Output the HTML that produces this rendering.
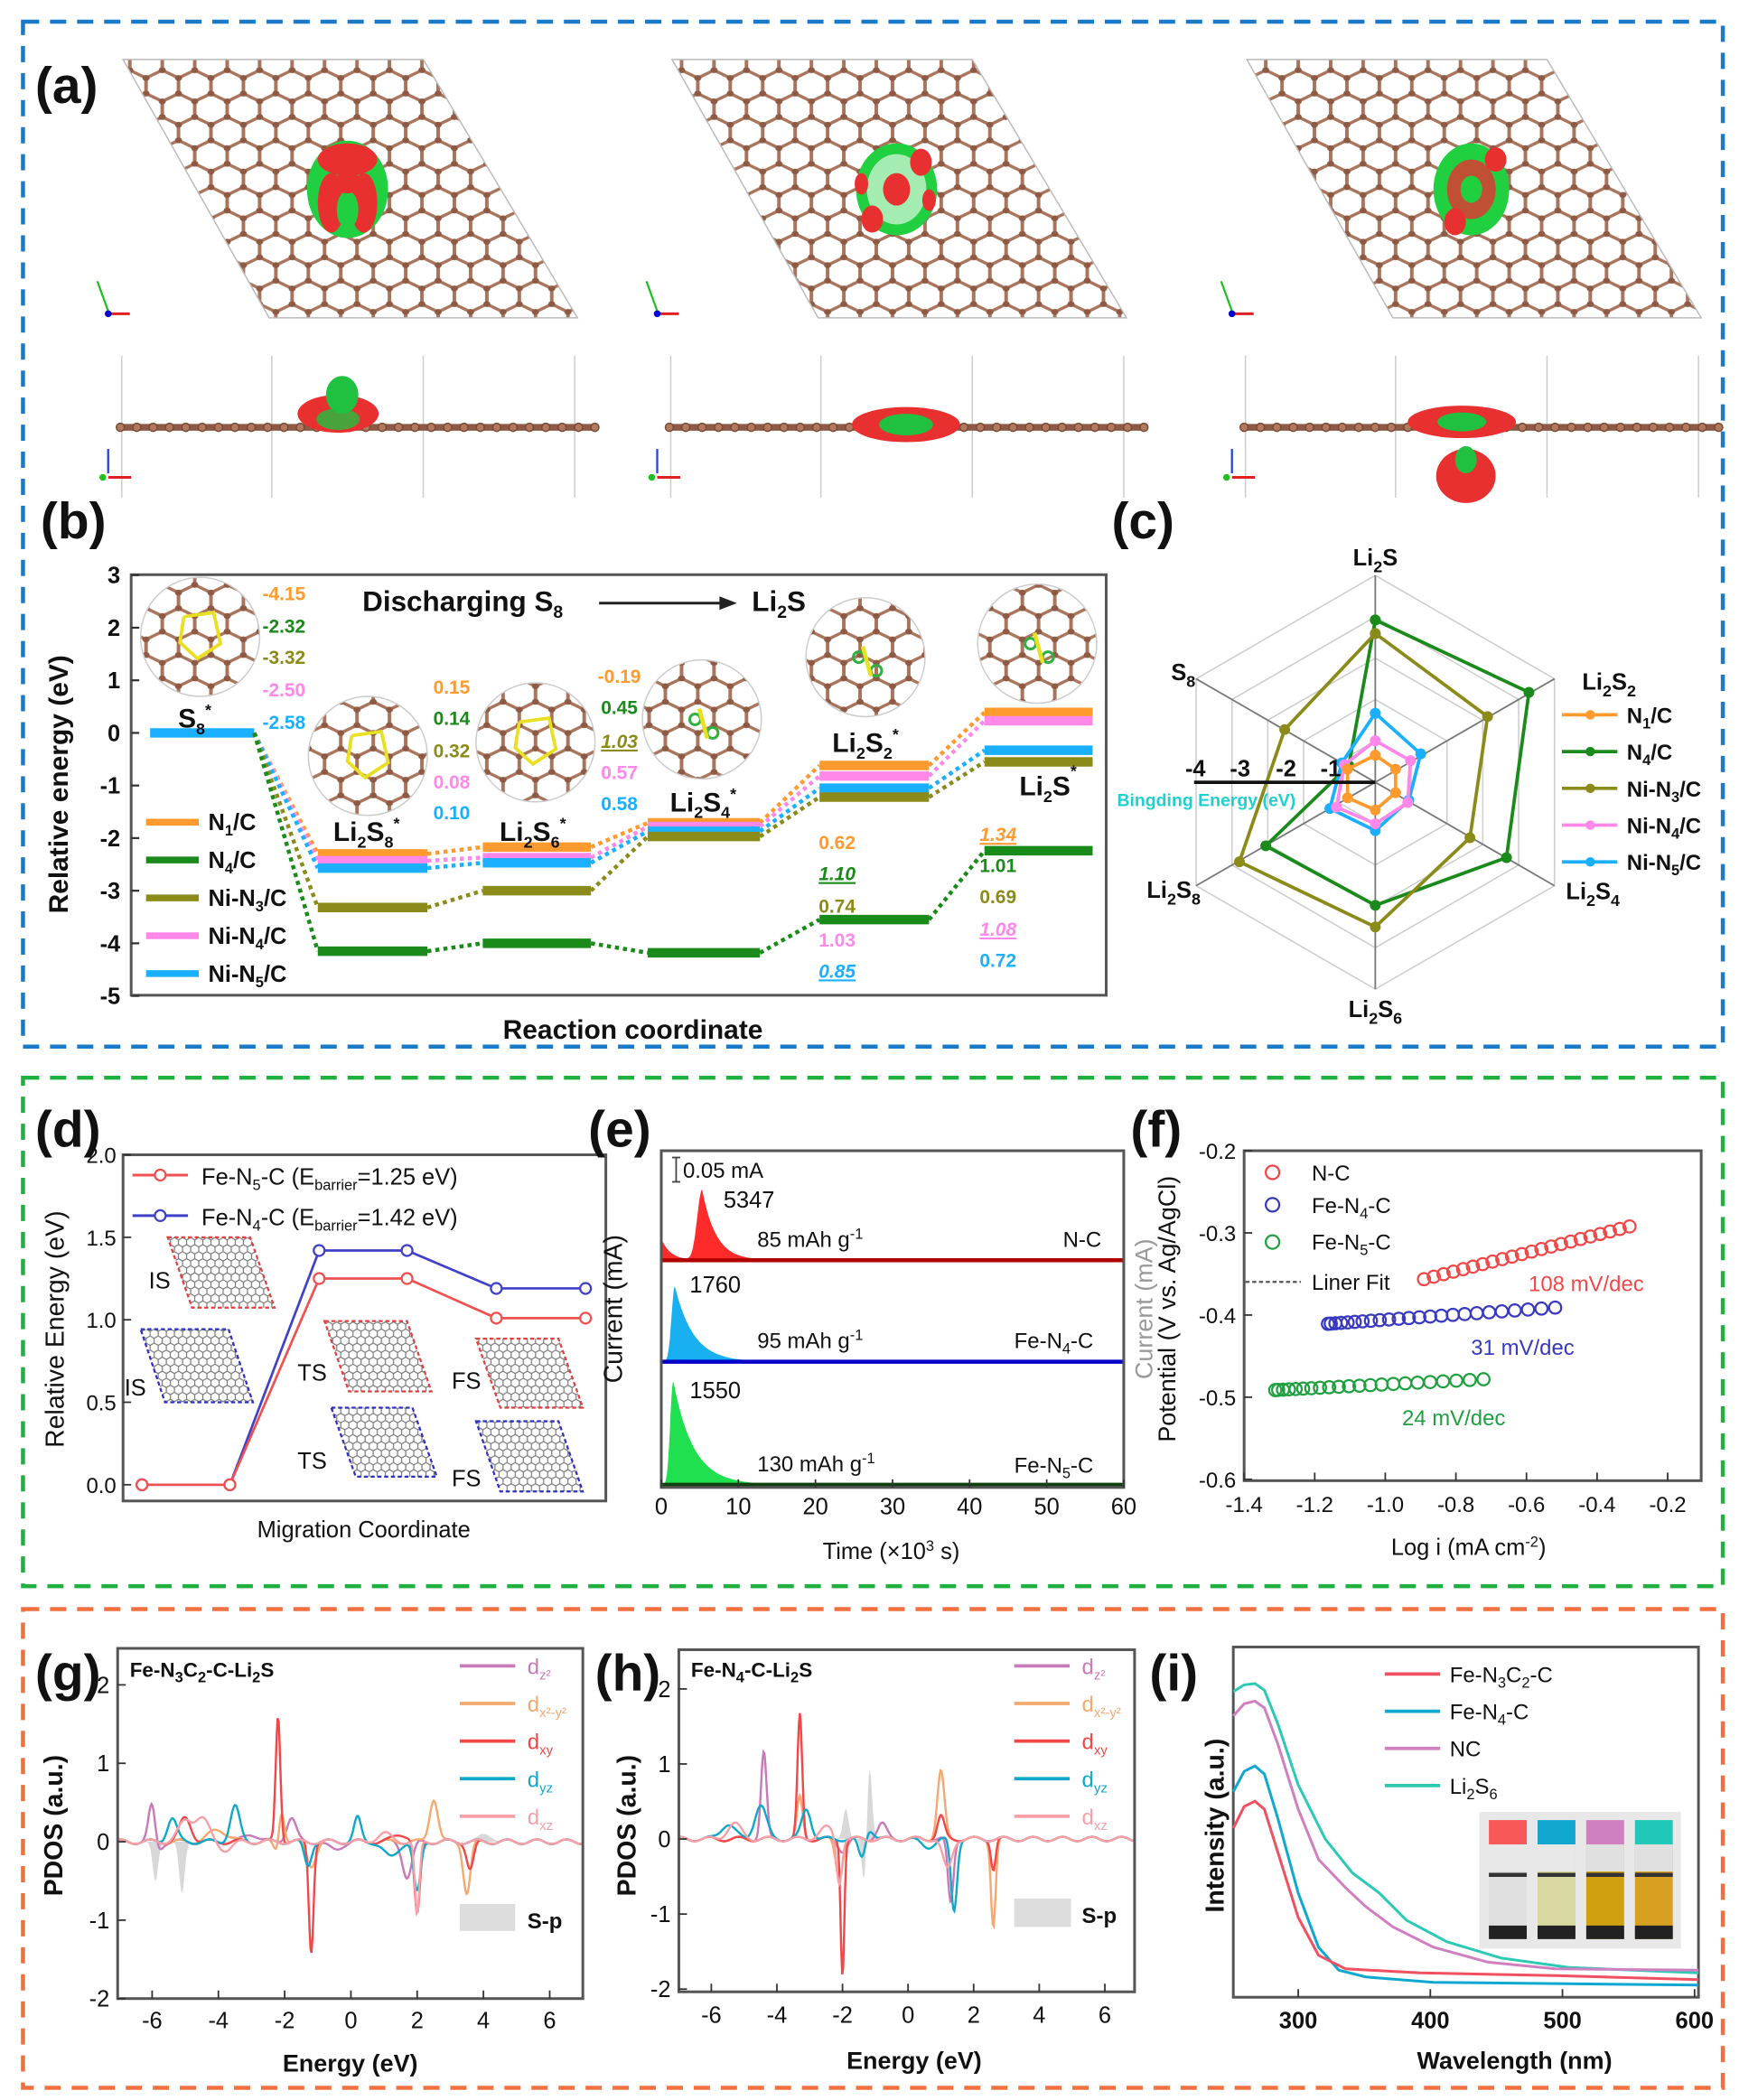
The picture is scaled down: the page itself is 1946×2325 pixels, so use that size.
<!DOCTYPE html>
<html><head><meta charset="utf-8"><style>
html,body{margin:0;padding:0;background:#fff}
svg{display:block}
text{font-family:"Liberation Sans",Arial,sans-serif}
</style></head><body>
<svg id="S" xmlns="http://www.w3.org/2000/svg" width="1946" height="2325" viewBox="0 0 1300 1553" preserveAspectRatio="none">
<defs>
<pattern id="hex" patternUnits="userSpaceOnUse" width="20" height="34.6" patternTransform="scale(1.2,1)">
<path d="M10,0 L20,5.77 L20,17.3 L10,23.06 L0,17.3 L0,5.77 Z M10,23.06 L10,34.6" fill="none" stroke="#a8745c" stroke-width="2.2"/>
<g fill="#8e5a44"><circle cx="10" cy="0" r="2.2"/><circle cx="20" cy="5.77" r="2.2"/><circle cx="20" cy="17.3" r="2.2"/><circle cx="10" cy="23.06" r="2.2"/><circle cx="0" cy="17.3" r="2.2"/><circle cx="0" cy="5.77" r="2.2"/><circle cx="10" cy="34.6" r="2.2"/></g>
</pattern>
<pattern id="hexg" patternUnits="userSpaceOnUse" width="6" height="10.4">
<path d="M3,0 L6,1.73 L6,5.2 L3,6.93 L0,5.2 L0,1.73 Z M3,6.93 L3,10.4" fill="none" stroke="#777" stroke-width="0.8"/>
</pattern>
</defs>
<g id="G"></g>
</svg>
<script>
var o='';
function T(x,y,s,sz,opt){opt=opt||{};o+='<text x="'+x+'" y="'+y+'" font-size="'+sz+'"'+(opt.b!==false?' font-weight="bold"':'')+' fill="'+(opt.c||'#111')+'"'+(opt.a?' text-anchor="'+opt.a+'"':'')+(opt.r?' transform="rotate('+opt.r+' '+x+' '+y+')"':'')+(opt.st?' font-style="italic"':'')+(opt.u?' text-decoration="underline"':'')+'>'+s+'</text>';}
function L(x1,y1,x2,y2,c,w,d){o+='<line x1="'+x1+'" y1="'+y1+'" x2="'+x2+'" y2="'+y2+'" stroke="'+c+'" stroke-width="'+w+'"'+(d?' stroke-dasharray="'+d+'"':'')+'/>';}
function P(pts,c,w,f,extra){o+='<polyline points="'+pts.map(function(p){return p[0].toFixed(1)+','+p[1].toFixed(1)}).join(' ')+'" fill="'+(f||'none')+'" stroke="'+c+'" stroke-width="'+w+'" '+(extra||'')+'/>';}
function R(x,y,w,h,c,f,sw){o+='<rect x="'+x+'" y="'+y+'" width="'+w+'" height="'+h+'" fill="'+(f||'none')+'" stroke="'+(c||'none')+'" stroke-width="'+(sw||1)+'"/>';}
function C(x,y,r,c,f,w){o+='<circle cx="'+x+'" cy="'+y+'" r="'+r+'" fill="'+(f||'none')+'" stroke="'+(c||'none')+'" stroke-width="'+(w||1)+'"/>';}
function E(x,y,rx,ry,f,op){o+='<ellipse cx="'+x+'" cy="'+y+'" rx="'+rx+'" ry="'+ry+'" fill="'+f+'" opacity="'+(op||1)+'"/>';}
o+='<rect x="17" y="16" width="1257" height="758" fill="none" stroke="#1a7ac8" stroke-width="3" stroke-dasharray="12,8"/>';
o+='<rect x="17" y="797" width="1257" height="376" fill="none" stroke="#20b040" stroke-width="3" stroke-dasharray="12,8"/>';
o+='<rect x="17" y="1190" width="1257" height="354" fill="none" stroke="#f07040" stroke-width="3" stroke-dasharray="12,8"/>';
[0,406,831].forEach(function(dx,i){
 o+='<polygon points="'+(91+dx)+',44 '+(313+dx)+',44 '+(427+dx)+',235 '+(199+dx)+',235" fill="url(#hex)" stroke="#bbb" stroke-width="1"/>';
 var cx=257+dx,cy=140;
 if(i==0){E(cx,cy,30,36,'#20d040');E(cx,cy-22,22,12,'#e83030');E(cx-12,cy+10,10,22,'#e83030');E(cx+12,cy+10,10,22,'#e83030');E(cx,cy+15,8,14,'#20d040');E(cx,cy-5,10,8,'#e83030');}
 else if(i==1){E(cx,cy,30,34,'#20d040');E(cx,cy,22,26,'#fff',0.6);E(cx,cy,10,12,'#e83030');E(cx+18,cy-20,8,10,'#e83030');E(cx-18,cy+22,8,10,'#e83030');E(cx-26,cy-4,5,8,'#e83030');E(cx+24,cy+8,5,8,'#e83030');}
 else {E(cx,cy,28,34,'#20d040');E(cx,cy,18,22,'#e83030',0.8);E(cx,cy,8,10,'#20d040');E(cx+18,cy-22,8,9,'#e83030');E(cx-12,cy+24,8,10,'#e83030');}
 L(80+dx,230,72+dx,208,'#20c020',1.5);L(80+dx,232,96+dx,232,'#e02020',2);C(80+dx,232,2,'#00c','#00c');
 [90,201,313,425].forEach(function(x){L(x+dx,263,x+dx,368,'#ccc',1);});
 L(87+dx,316,439+dx,316,'#8e5a44',5);
 for(var k=0;k<30;k++)C(89+dx+k*12.1,316,3,'#7a4a34','#b07a60',1);
 if(i==0){E(250,306,30,14,'#e83030');E(253,292,12,14,'#20c040');E(250,310,16,8,'#20c040',0.8);}
 else if(i==1){E(670,314,40,13,'#e83030');E(670,314,20,8,'#20c040');}
 else{E(1081,312,40,12,'#e83030');E(1081,312,18,7,'#20c040');E(1084,352,22,20,'#e83030');E(1084,340,8,10,'#20c040');}
 L(80+dx,350,80+dx,332,'#2040e0',1.5);L(80+dx,353,97+dx,353,'#e02020',2);C(76+dx,353,2,'#20c020','#20c020');
});
T(26,76,'(a)',38);
T(30,398,'(b)',38);
var bx0=97,bx1=818,by=function(e){return 542-e*38.9;};
R(bx0,425,bx1-bx0,311,'#555','none',2);
for(var e=-5;e<=3;e++){L(bx0,by(e),bx0+6,by(e),'#333',1.5);T(bx0-8,by(e)+6,String(e),17,{a:'end'});}
T(50,580,'Relative energy (eV)',20,{r:-90,a:'middle'});
T(468,768,'Reaction coordinate',20,{a:'middle'});
var cols={N1:'#ff9a2e',N4:'#1a8a1a',N3:'#8b8b1a',Ni4:'#ff88e8',Ni5:'#1ab0ff'};
var st=[[111,188],[235,316],[357,437],[479,562],[606,687],[728,808]];
var lv={N1:[0,-2.3,-2.17,-1.71,-0.62,0.39],Ni4:[0,-2.43,-2.37,-1.78,-0.82,0.23],Ni5:[0,-2.57,-2.47,-1.87,-1.05,-0.33],N3:[0,-3.32,-3.0,-1.97,-1.22,-0.55],N4:[0,-4.15,-4.0,-4.18,-3.55,-2.24]};
[[148,471],[272,559],[396,549],[519,532],[640,486],[767,476]].forEach(function(p){C(p[0],p[1],44,'#ccc','url(#hex)',1);});
[[148,471],[272,559],[396,549]].forEach(function(p){P([[p[0]-12,p[1]-15],[p[0]+10,p[1]-18],[p[0]+15,p[1]+5],[p[0]-2,p[1]+16],[p[0]-15,p[1]+4],[p[0]-12,p[1]-15]],'#e8e020',2.5);});
[[519,532],[640,486],[767,476]].forEach(function(p){C(p[0]-5,p[1],4,'#30b040','none',2);C(p[0]+8,p[1]+10,4,'#30b040','none',2);L(p[0]-2,p[1]-8,p[0]+4,p[1]+14,'#e8e020',3);});
['N1','Ni4','Ni5','N3','N4'].forEach(function(k){
 var a=lv[k];
 for(var i=0;i<6;i++){ if(i>0||k=='Ni5') L(st[i][0],by(a[i]),st[i][1],by(a[i]),cols[k],7);
  if(i<5) L(st[i][1],by(a[i]),st[i+1][0],by(a[i+1]),cols[k],3,'3,3');}
});
T(268,452,'Discharging S<tspan font-size="13" dy="5">8</tspan>',21);
L(443,446,538,446,'#222',2);o+='<polygon points="545,446 532,441 532,451" fill="#222"/>';
T(556,452,'Li<tspan font-size="13" dy="5">2</tspan><tspan dy="-5">S</tspan>',21);
function sl(x,y,t){T(x,y,t,20,{a:'middle'});}
sl(144,538,'S<tspan font-size="12" dy="5">8</tspan><tspan font-size="12" dy="-14">*</tspan>');
sl(271,622,'Li<tspan font-size="12" dy="5">2</tspan><tspan dy="-5">S</tspan><tspan font-size="12" dy="5">8</tspan><tspan font-size="12" dy="-14">*</tspan>');
sl(394,622,'Li<tspan font-size="12" dy="5">2</tspan><tspan dy="-5">S</tspan><tspan font-size="12" dy="5">6</tspan><tspan font-size="12" dy="-14">*</tspan>');
sl(520,600,'Li<tspan font-size="12" dy="5">2</tspan><tspan dy="-5">S</tspan><tspan font-size="12" dy="5">4</tspan><tspan font-size="12" dy="-14">*</tspan>');
sl(640,556,'Li<tspan font-size="12" dy="5">2</tspan><tspan dy="-5">S</tspan><tspan font-size="12" dy="5">2</tspan><tspan font-size="12" dy="-14">*</tspan>');
sl(775,588,'Li<tspan font-size="12" dy="5">2</tspan><tspan dy="-5">S</tspan><tspan font-size="12" dy="-14">*</tspan>');
var cc=[cols.N1,cols.N4,cols.N3,cols.Ni4,cols.Ni5];
function colnum(x,ys,vals,und){for(var i=0;i<5;i++)T(x,ys[i],vals[i],14,{a:'middle',c:cc[i],u:und&&und[i],st:und&&und[i]});}
colnum(210,[444,468,491,515,539],['-4.15','-2.32','-3.32','-2.50','-2.58']);
colnum(334,[513,536,560,583,606],['0.15','0.14','0.32','0.08','0.10']);
colnum(458,[505,528,553,576,599],['-0.19','0.45','1.03','0.57','0.58'],[0,0,1,0,0]);
colnum(619,[628,651,675,700,723],['0.62','1.10','0.74','1.03','0.85'],[0,1,0,0,1]);
colnum(738,[622,645,668,692,715],['1.34','1.01','0.69','1.08','0.72'],[1,0,0,1,0]);
[['N<tspan font-size="11" dy="4">1</tspan><tspan dy="-4">/C</tspan>',cols.N1],['N<tspan font-size="11" dy="4">4</tspan><tspan dy="-4">/C</tspan>',cols.N4],['Ni-N<tspan font-size="11" dy="4">3</tspan><tspan dy="-4">/C</tspan>',cols.N3],['Ni-N<tspan font-size="11" dy="4">4</tspan><tspan dy="-4">/C</tspan>',cols.Ni4],['Ni-N<tspan font-size="11" dy="4">5</tspan><tspan dy="-4">/C</tspan>',cols.Ni5]].forEach(function(l,i){var y=608+i*28;L(108,y,147,y,l[1],5);T(154,y+6,l[0],17);});
T(822,398,'(c)',38);
var rc=[1017,578.5];
function ang(i){return (-90+60*i)*Math.PI/180;}
for(var k=1;k<=5;k++){var r=k*30.6,pts=[];for(var i=0;i<=6;i++)pts.push([rc[0]+r*Math.cos(ang(i)),rc[1]+r*Math.sin(ang(i))]);P(pts,'#ccc',1);}
for(var i=0;i<6;i++)L(rc[0],rc[1],rc[0]+153*Math.cos(ang(i)),rc[1]+153*Math.sin(ang(i)),'#777',1.2);
function rad(off,c){var pts=off.map(function(d){return [rc[0]+d[0],rc[1]+d[1]];});pts.push(pts[0]);P(pts,c,2.5);pts.forEach(function(p){C(p[0],p[1],3.5,c,c,1);});}
rad([[0,-120],[113.6,-66.5],[97,55.7],[0,91],[-81,47],[-19.6,-12.3]],'#1a8a1a');
rad([[0,-110],[83,-48.6],[70,41],[0,107],[-100.5,58.8],[-67,-39]],'#8b8b1a');
rad([[0,-51],[33.6,-21],[24.8,13.3],[0,35.8],[-33.6,19.4],[-24.8,-14.3]],'#1ab0ff');
rad([[0,-30.7],[26,-16],[24,15],[0,30.7],[-28.7,18.4],[-22.8,-13]],'#ff88e8');
rad([[0,-20],[15,-9.7],[15,7.7],[0,20.5],[-20.5,11.5],[-20.5,-9.7]],'#ff9a2e');
L(883,578.5,1017,578.5,'#111',2.5);
[['-4',884],['-3',917],['-2',951],['-1',984]].forEach(function(t){T(t[1],574,t[0],17,{a:'middle'});});
T(826,596,'Bingding Energy (eV)',13,{c:'#20d0d0'});
var sub=function(a,b,c){return a+'<tspan font-size="12" dy="5">'+b+'</tspan>'+(c?'<tspan dy="-5">'+c+'</tspan>':'');};
T(1017,418,sub('Li','2','S'),17,{a:'middle'});
T(1170,510,sub('Li','2','S')+'<tspan font-size="12" dy="5">2</tspan>',17);
T(1158,665,sub('Li','2','S')+'<tspan font-size="12" dy="5">4</tspan>',17);
T(1017,752,sub('Li','2','S')+'<tspan font-size="12" dy="5">6</tspan>',17,{a:'middle'});
T(848,664,sub('Li','2','S')+'<tspan font-size="12" dy="5">8</tspan>',17);
T(866,503,sub('S','8'),17);
[['N<tspan font-size="11" dy="4">1</tspan><tspan dy="-4">/C</tspan>','#ff9a2e'],['N<tspan font-size="11" dy="4">4</tspan><tspan dy="-4">/C</tspan>','#1a8a1a'],['Ni-N<tspan font-size="11" dy="4">3</tspan><tspan dy="-4">/C</tspan>','#8b8b1a'],['Ni-N<tspan font-size="11" dy="4">4</tspan><tspan dy="-4">/C</tspan>','#ff88e8'],['Ni-N<tspan font-size="11" dy="4">5</tspan><tspan dy="-4">/C</tspan>','#1ab0ff']].forEach(function(l,i){var y=528.6+i*27.2;L(1155,y,1196,y,l[1],2.5);C(1176,y,3,l[1],l[1]);T(1203,y+6,l[0],16);});
T(26,848,'(d)',38);
R(91,854,357,256,'#555','none',2);
var dy=function(v){return 1098-v*122;};
[0,0.5,1.0,1.5,2.0].forEach(function(v){L(91,dy(v),97,dy(v),'#333',1.2);T(86,dy(v)+6,v.toFixed(1),16,{a:'end',b:false});});
T(47,983,'Relative Energy (eV)',19,{r:-90,a:'middle',b:false});
T(269,1137,'Migration Coordinate',17,{a:'middle',b:false});
var dxs=[105,170,236,301,367,433];
[[124,915,79,52,'#e04040'],[104,983,83,54,'#3030c0'],[240,977,79,52,'#e04040'],[352,990,79,51,'#e04040'],[245,1041,78,51,'#3030c0'],[352,1051,79,52,'#3030c0']].forEach(function(b){var x=b[0],y=b[1],w=b[2],h=b[3],s=18;o+='<polygon points="'+(x)+','+y+' '+(x+w-s)+','+y+' '+(x+w)+','+(y+h)+' '+(x+s)+','+(y+h)+'" fill="url(#hexg)" stroke="'+b[4]+'" stroke-width="1.5" stroke-dasharray="3,2"/>';});
T(110,953,'IS',17,{b:false});T(92,1032,'IS',17,{b:false});T(220,1021,'TS',17,{b:false});T(334,1027,'FS',17,{b:false});T(220,1086,'TS',17,{b:false});T(334,1099,'FS',17,{b:false});
var rd=[0,0,1.25,1.25,1.01,1.01],bd=[0,0,1.42,1.42,1.19,1.19];
P(dxs.map(function(x,i){return [x,dy(bd[i])];}),'#4040c8',1.8);
P(dxs.map(function(x,i){return [x,dy(rd[i])];}),'#f05050',1.8);
dxs.forEach(function(x,i){C(x,dy(bd[i]),4,'#4040c8','#fff',1.5);C(x,dy(rd[i]),4,'#f05050','#fff',1.5);});
L(98,869,139,869,'#f05050',2);C(118.5,869,4,'#f05050','#fff',1.5);
L(98,899,139,899,'#4040c8',2);C(118.5,899,4,'#4040c8','#fff',1.5);
T(149,876,'Fe-N<tspan font-size="11" dy="4">5</tspan><tspan dy="-4">-C (E</tspan><tspan font-size="11" dy="4">barrier</tspan><tspan dy="-4">=1.25 eV)</tspan>',17,{b:false});
T(149,906,'Fe-N<tspan font-size="11" dy="4">4</tspan><tspan dy="-4">-C (E</tspan><tspan font-size="11" dy="4">barrier</tspan><tspan dy="-4">=1.42 eV)</tspan>',17,{b:false});
T(435,848,'(e)',38);
var ex=function(t){return 489+t*5.7;};
function spec(base,tp,h,rise,dec,pre,fill,line){var pts=[];for(var t=0;t<=60;t+=0.1){var f=(t<tp?Math.exp(-Math.pow((t-tp)/rise,2)):Math.exp(-(t-tp)/dec))*h+pre*Math.exp(-t/1.2);pts.push([ex(t),base-f]);}
 var poly=pts.concat([[ex(60),base],[ex(0),base]]);P(poly,'none',0,fill);L(489,base,831,base,line,3);}
spec(932,5.3,52,0.9,1.8,16,'#ff2a2a','#b00000');
spec(1007,1.76,56,0.6,2.4,0,'#18b0f0','#0000c8');
spec(1098,1.55,77,0.55,2.6,0,'#20e050','#104010');
R(489,851,342,249,'#555','none',2);
[0,10,20,30,40,50,60].forEach(function(t){L(ex(t),1100,ex(t),1094,'#333',1.2);T(ex(t),1120,String(t),17,{a:'middle',b:false});});
T(460,968,'Current (mA)',19,{r:-90,a:'middle',b:false});
T(659,1153,'Time (×10<tspan font-size="11" dy="-6">3</tspan><tspan dy="6"> s)</tspan>',17,{a:'middle',b:false});
L(500,856,500,874,'#444',1.2);L(497,856,503,856,'#444',1.2);L(497,874,503,874,'#444',1.2);
T(505,871,'0.05 mA',16,{b:false});T(535,893,'5347',17,{b:false});T(560,922,'85 mAh g<tspan font-size="11" dy="-6">-1</tspan>',16,{b:false});T(786,922,'N-C',16,{b:false});
T(510,956,'1760',17,{b:false});T(560,997,'95 mAh g<tspan font-size="11" dy="-6">-1</tspan>',16,{b:false});T(750,997,'Fe-N<tspan font-size="11" dy="4">4</tspan><tspan dy="-4">-C</tspan>',16,{b:false});
T(510,1034,'1550',17,{b:false});T(560,1088,'130 mAh g<tspan font-size="11" dy="-6">-1</tspan>',16,{b:false});T(750,1089,'Fe-N<tspan font-size="11" dy="4">5</tspan><tspan dy="-4">-C</tspan>',16,{b:false});
T(836,848,'(f)',38);
R(920,851,338,244,'#555','none',2);
var fx=function(v){return 920+(v+1.4)*261;},fy=function(v){return 851+(-0.2-v)*607.5;};
[-1.4,-1.2,-1.0,-0.8,-0.6,-0.4,-0.2].forEach(function(v){L(fx(v),1095,fx(v),1089,'#333',1.2);T(fx(v),1118,v.toFixed(1),16,{a:'middle',b:false});});
[-0.2,-0.3,-0.4,-0.5,-0.6].forEach(function(v){L(920,fy(v),926,fy(v),'#333',1.2);T(914,fy(v)+6,v.toFixed(1),16,{a:'end',b:false});});
T(869,968,'Potential (V vs. Ag/AgCl)',18,{r:-90,a:'middle',b:false});
T(852,968,'Current (mA)',18,{r:-90,a:'middle',b:false,c:'#999'});
T(1086,1150,'Log i (mA cm<tspan font-size="11" dy="-6">-2</tspan><tspan dy="6">)</tspan>',17,{a:'middle',b:false});
function ser(x1,y1,x2,y2,n,c,cur){for(var i=0;i<n;i++){var t=i/(n-1),t2=cur?Math.pow(t,1.4):t;C(x1+(x2-x1)*t2,y1+(y2-y1)*t2,4.5,c,'none',1.5);}}
ser(1053,946,1205,907,22,'#f04848',0);
ser(982,979,1150,967,24,'#3838c0',1);
ser(943,1028,1097,1020,22,'#20a040',1);
C(941,867,5,'#f04848','none',1.5);C(941,891,5,'#3838c0','none',1.5);C(941,918.5,5,'#20a040','none',1.5);
T(970,873,'N-C',16,{b:false});T(970,897,'Fe-N<tspan font-size="11" dy="4">4</tspan><tspan dy="-4">-C</tspan>',16,{b:false});T(970,924,'Fe-N<tspan font-size="11" dy="4">5</tspan><tspan dy="-4">-C</tspan>',16,{b:false});
L(921,948,962,948,'#555',1.5,'3,2');T(970,954,'Liner Fit',16,{b:false});
T(1173,955,'108 mV/dec',16,{a:'middle',b:false,c:'#f04848'});T(1126,1002,'31 mV/dec',16,{a:'middle',b:false,c:'#3838c0'});T(1075,1054,'24 mV/dec',16,{a:'middle',b:false,c:'#20a040'});
function g(E,pk){var s=0;pk.forEach(function(p){s+=p[1]*Math.exp(-Math.pow((E-p[0])/p[2],2));});return s;}
function pdos(X0,UX,Y0,UY,xl,xr,orbs,sp){
 var pts=[];for(var E=(xl-X0)/UX;E<=(xr-X0)/UX;E+=0.03){pts.push([X0+E*UX,Y0-g(E,sp)*UY]);}
 pts.push([xr,Y0]);pts.push([xl,Y0]);P(pts,'none',0,'#d8d8d8');
 orbs.forEach(function(ob){var p=[];for(var E=(xl-X0)/UX;E<=(xr-X0)/UX;E+=0.03){p.push([X0+E*UX,Y0-(g(E,ob[1])+0.03*Math.sin(E*7))*UY]);}P(p,ob[0],1.6);});
}
var oc=['#c87ab8','#f5a870','#f04848','#10a8c8','#f8a0a8'];
T(26,1250,'(g)',38);
pdos(259.5,24.5,1362,58,87,431,[
 [oc[0],[[-6,0.6,0.15],[-1.8,0.3,0.2],[-3,0.1,.3],[-5.9,-0.2,.2],[1.7,-0.45,0.2],[-0.5,-0.1,.3]]],
 [oc[1],[[-2.1,0.5,0.12],[2.5,0.55,0.18],[-4,0.15,.4],[-2.2,-0.2,.15],[3.5,-0.65,0.15],[-1.2,-0.3,.2]]],
 [oc[2],[[-2.2,1.6,0.1],[-5,0.3,.25],[1.5,0.1,.3],[-1.2,-1.4,0.1],[2,-0.95,0.12],[3.6,-0.35,.15]]],
 [oc[3],[[-5.4,0.3,.2],[-3.5,0.45,.2],[0.2,0.3,.15],[-1.3,-0.3,.15],[2,-0.65,0.15],[1.2,-0.2,.3]]],
 [oc[4],[[-4.5,0.3,.3],[-5,0.25,.3],[1,0.1,.3],[2,-0.95,0.1],[-3.8,-0.1,.3]]]],
 [[-5.9,-0.5,0.12],[-5.1,-0.65,0.12],[4,0.1,.3]]);
R(87,1219,344,259,'#555','none',2);
[-6,-4,-2,0,2,4,6].forEach(function(v){var x=259.5+v*24.5;L(x,1478,x,1472,'#333',1.2);T(x,1500,String(v),17,{a:'middle',b:false});});
[-2,-1,0,1,2].forEach(function(v){var y=1362-v*58;L(87,y,93,y,'#333',1.2);T(81,y+6,String(v),17,{a:'end',b:false});});
T(46,1350,'PDOS (a.u.)',19,{r:-90,a:'middle'});
T(259,1532,'Energy (eV)',18,{a:'middle'});
T(96,1240,'Fe-N<tspan font-size="11" dy="4">3</tspan><tspan dy="-4">C</tspan><tspan font-size="11" dy="4">2</tspan><tspan dy="-4">-C-Li</tspan><tspan font-size="11" dy="4">2</tspan><tspan dy="-4">S</tspan>',15);
function dleg(x){var lb=['d<tspan font-size="10" dy="4">z²</tspan>','d<tspan font-size="10" dy="4">x²-y²</tspan>','d<tspan font-size="10" dy="4">xy</tspan>','d<tspan font-size="10" dy="4">yz</tspan>','d<tspan font-size="10" dy="4">xz</tspan>'];lb.forEach(function(l,i){var y=1232+i*27.8;L(x,y,x+41,y,oc[i],2.5);T(x+50,y+6,l,16,{c:oc[i],b:false});});}
dleg(340);R(340,1408,41,20,'none','#ddd');T(390,1426,'S-p',16);
T(440,1250,'(h)',38);
pdos(671.5,24.25,1360,55.5,502,839,[
 [oc[0],[[-4.4,1.15,.12],[-0.8,0.2,.2],[1.3,-0.85,.12],[-2,-0.15,.2]]],
 [oc[1],[[-3.3,0.55,.12],[1,0.9,.15],[2.6,-1.15,.1],[-2.1,-0.5,.15]]],
 [oc[2],[[-3.3,1.65,.1],[1,0.3,.15],[-2,-1.8,.08],[2.6,-0.4,.1]]],
 [oc[3],[[-4.5,0.45,.25],[-3.1,0.4,.2],[-1.2,0.15,.2],[-5.5,0.2,.3],[1.4,-0.95,.13],[0.6,-0.1,.3],[-1.4,-0.3,.15]]],
 [oc[4],[[-5.3,0.2,.3],[-2.5,0.15,.3],[-2.1,-0.6,.12],[1.2,-0.4,.2]]]],
 [[-1.9,1.0,.12],[-1.2,1.3,.12],[-1.3,-0.95,.12],[-1.9,-0.6,.12]]);
R(502,1220,337,253,'#555','none',2);
[-6,-4,-2,0,2,4,6].forEach(function(v){var x=671.5+v*24.25;L(x,1473,x,1467,'#333',1.2);T(x,1496,String(v),17,{a:'middle',b:false});});
[-2,-1,0,1,2].forEach(function(v){var y=1360-v*55.5;L(502,y,508,y,'#333',1.2);T(496,y+6,String(v),17,{a:'end',b:false});});
T(470,1350,'PDOS (a.u.)',19,{r:-90,a:'middle'});
T(676,1530,'Energy (eV)',18,{a:'middle'});
T(511,1240,'Fe-N<tspan font-size="11" dy="4">4</tspan><tspan dy="-4">-C-Li</tspan><tspan font-size="11" dy="4">2</tspan><tspan dy="-4">S</tspan>',15);
dleg(750);R(750,1404,42,21,'none','#ddd');T(800,1422,'S-p',16);
T(850,1250,'(i)',38);
R(912,1218,344,259,'#555','none',2);
[300,400,500,600].forEach(function(v){var x=960+(v-300)*0.977;L(x,1477,x,1471,'#333',1.2);T(x,1500,String(v),17,{a:'middle'});});
T(905,1350,'Intensity (a.u.)',19,{r:-90,a:'middle'});
T(1120,1530,'Wavelength (nm)',18,{a:'middle'});
P([[912,1251],[920,1246],[928,1245],[935,1250],[945,1275],[960,1320],[980,1360],[1000,1385],[1020,1400],[1040,1420],[1070,1436],[1110,1448],[1160,1455],[1256,1459]],'#2cc9b5',2);
P([[912,1269],[920,1260],[928,1258],[935,1263],[945,1290],[960,1338],[975,1375],[995,1396],[1010,1410],[1030,1425],[1060,1440],[1100,1451],[1150,1456],[1256,1457]],'#d080c0',2);
P([[912,1325],[920,1310],[928,1306],[935,1312],[945,1345],[960,1400],[975,1440],[990,1457],[1010,1462],[1060,1466],[1256,1468]],'#10a8d0',2);
P([[912,1352],[920,1336],[928,1332],[935,1338],[945,1370],[960,1418],[975,1446],[995,1456],[1050,1459],[1150,1461],[1256,1464]],'#f05060',2);
[['Fe-N<tspan font-size="11" dy="4">3</tspan><tspan dy="-4">C</tspan><tspan font-size="11" dy="4">2</tspan><tspan dy="-4">-C</tspan>','#f05060'],['Fe-N<tspan font-size="11" dy="4">4</tspan><tspan dy="-4">-C</tspan>','#10a8d0'],['NC','#d080c0'],['Li<tspan font-size="11" dy="4">2</tspan><tspan dy="-4">S</tspan><tspan font-size="11" dy="4">6</tspan>','#2cc9b5']].forEach(function(l,i){var y=1238+i*27.5;L(1024,y,1065,y,l[1],2.5);T(1072,y+6,l[0],16,{b:false});});
R(1094,1340,149,101,'none','#e8e8e8');
['#f85858','#10a8d0','#d080c0','#20c8b8'].forEach(function(c,i){var x=1101+i*36;R(x,1346,28,18,'none',c);R(x,1364,28,70,'none',['#e0e0e0','#d8d8a0','#d0a010','#d8a020'][i]);R(x,1364,28,20,'none',i<2?'#e8e8e8':'#e0e0e0');R(x,1385,28,3,'none','#333');R(x,1424,28,10,'none','#222');});
document.getElementById('G').innerHTML=o;
</script>
</body></html>
